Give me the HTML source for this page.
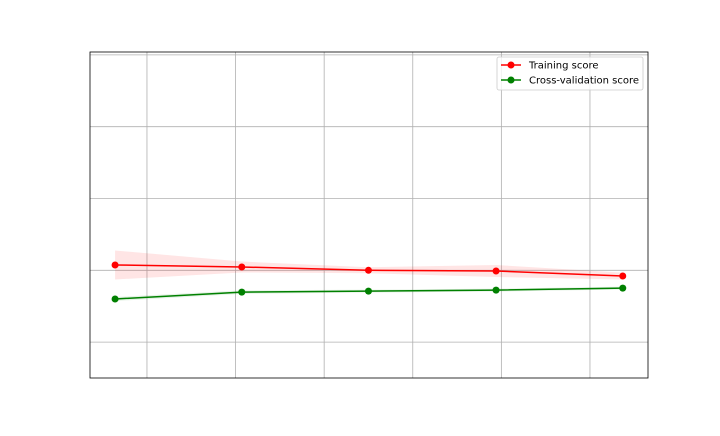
<!DOCTYPE html>
<html><head><meta charset="utf-8"><style>
body{margin:0;background:#fff;font-family:"DejaVu Sans","Liberation Sans",sans-serif}
</style></head><body>
<svg id="chart" width="720" height="432" xmlns="http://www.w3.org/2000/svg"></svg>
<script>
const trainSizes=[164,307,450,594,737];
const trainMean=[0.8537,0.8523,0.8500,0.8495,0.8460];
const trainStd=[0.0101,0.0038,0.0021,0.0042,0.0024];
const cvMean=[0.8300,0.8348,0.8355,0.8362,0.8376];
const cvStd=[0.0014,0.0012,0.0010,0.0010,0.0010];
const xTicks=[200,300,400,500,600,700];
const yTicks=[0.80,0.85,0.90,0.95,1.00];

const svg=document.getElementById('chart');
const NS='http://www.w3.org/2000/svg';
const L=90,R=648,T=52,B=378;
const xMin=135.7,xMax=765.5,yMin=0.775,yMax=1.002;
const sx=v=>L+(v-xMin)/(xMax-xMin)*(R-L);
const sy=v=>B-(v-yMin)/(yMax-yMin)*(B-T);
function mk(tag,attrs){const e=document.createElementNS(NS,tag);for(const k in attrs)e.setAttribute(k,attrs[k]);svg.appendChild(e);return e;}

xTicks.forEach(t=>{const e=mk('line',{x1:sx(t),x2:sx(t),y1:T,y2:B,stroke:'#b0b0b0','stroke-width':0.8});

});
yTicks.forEach(t=>{const e=mk('line',{x1:L,x2:R,y1:sy(t),y2:sy(t),stroke:'#b0b0b0','stroke-width':0.8});

});

function band(mean,std,color,name){
  let up=trainSizes.map((s,i)=>sx(s)+','+sy(mean[i]+std[i]));
  let dn=trainSizes.map((s,i)=>sx(s)+','+sy(mean[i]-std[i])).reverse();
  const e=mk('polygon',{points:up.concat(dn).join(' '),fill:color,'fill-opacity':0.1});
  
  
}
function series(mean,color,name){
  const e=mk('polyline',{points:trainSizes.map((s,i)=>sx(s)+','+sy(mean[i])).join(' '),fill:'none',stroke:color,'stroke-width':1.5});
  
  
  trainSizes.forEach((s,i)=>{const c=mk('circle',{cx:sx(s),cy:sy(mean[i]),r:3.5,fill:color});
  
  });
}
band(trainMean,trainStd,'red','training-band');
band(cvMean,cvStd,'green','cv-band');
series(trainMean,'red','training-score');
series(cvMean,'green','cv-score');

const fr=mk('rect',{x:L,y:T,width:R-L,height:B-T,fill:'none',stroke:'#000','stroke-width':0.8});



const lg=mk('rect',{x:497,y:57,width:146,height:33,rx:2,fill:'#fff','fill-opacity':0.8,stroke:'#ccc','stroke-width':0.8});


[['Training score','red',65],['Cross-validation score','green',80]].forEach(([txt,c,y])=>{
  const l=mk('line',{x1:501,x2:521,y1:y,y2:y,stroke:c,'stroke-width':1.5});
  
  
  const ci=mk('circle',{cx:511,cy:y,r:3.5,fill:c});
  
  
  const t=mk('text',{x:529,y:y+3.5,'font-size':10,fill:'#000','font-family':'DejaVu Sans, sans-serif'});
  t.textContent=txt;
  
  
});
</script>
</body></html>
